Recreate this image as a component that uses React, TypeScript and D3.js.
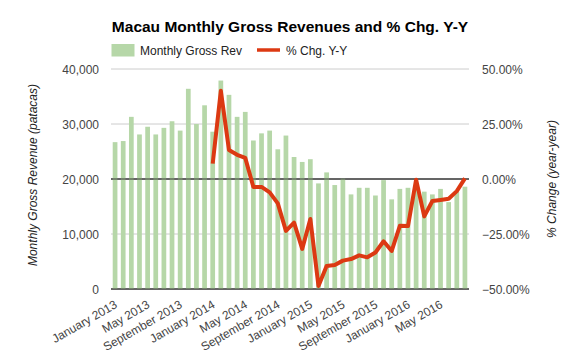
import React from "react";
import * as d3 from "d3";

const months: string[] = [
  "Jan 2013","Feb 2013","Mar 2013","Apr 2013","May 2013","Jun 2013","Jul 2013","Aug 2013","Sep 2013","Oct 2013","Nov 2013","Dec 2013",
  "Jan 2014","Feb 2014","Mar 2014","Apr 2014","May 2014","Jun 2014","Jul 2014","Aug 2014","Sep 2014","Oct 2014","Nov 2014","Dec 2014",
  "Jan 2015","Feb 2015","Mar 2015","Apr 2015","May 2015","Jun 2015","Jul 2015","Aug 2015","Sep 2015","Oct 2015","Nov 2015","Dec 2015",
  "Jan 2016","Feb 2016","Mar 2016","Apr 2016","May 2016","Jun 2016","Jul 2016","Aug 2016",
];

const revenue: number[] = [
  26700, 26900, 31300, 28100, 29500, 28100, 29300, 30500, 28800, 36400, 30000, 33400,
  28600, 37900, 35300, 31300, 32200, 27000, 28300, 28800, 25400, 27900, 24000, 23100,
  23600, 19200, 21200, 18900, 20100, 17200, 18400, 18400, 17000, 19800, 16300, 18200,
  18400, 18900, 17700, 17200, 18200, 15800, 17700, 18600,
];

const pctChange: (number | null)[] = [
  null, null, null, null, null, null, null, null, null, null, null, null,
  7.0, 40.1, 13.2, 11.0, 9.6, -3.6, -3.6, -6.1, -11.1, -23.6, -19.8, -31.8,
  -18.2, -48.6, -39.5, -39.1, -37.1, -36.4, -34.7, -35.6, -33.4, -28.3, -32.7, -21.3,
  -21.4, -0.3, -17.0, -10.0, -9.5, -9.0, -5.5, 0.3,
];

const xTickMonths: string[] = [
  "Jan 2013","May 2013","Sep 2013","Jan 2014","May 2014","Sep 2014","Jan 2015","May 2015","Sep 2015","Jan 2016","May 2016",
];
const xTickLabels: string[] = [
  "January 2013","May 2013","September 2013","January 2014","May 2014","September 2014","January 2015","May 2015","September 2015","January 2016","May 2016",
];

const leftTicks: number[] = [0, 10000, 20000, 30000, 40000];
const rightTicks: number[] = [-50, -25, 0, 25, 50];

const W = 580, H = 359;
const L = 111, R = 469, T = 69, B = 289;
const FONT = "'Liberation Sans', Arial, sans-serif";

export default function App() {
  const x = d3.scaleBand<string>().domain(months).range([L, R]).paddingInner(0.42).paddingOuter(0.21);
  const step = (R - L) / months.length;
  const xc = (m: string) => L + (months.indexOf(m) + 0.5) * step;
  const yL = d3.scaleLinear().domain([0, 40000]).range([B, T]);
  const yR = d3.scaleLinear().domain([-50, 50]).range([B, T]);
  const fmtL = d3.format(",");
  const fmtR = (v: number) => d3.format(".2f")(v) + "%";

  const line = d3
    .line<number | null>()
    .defined((d) => d !== null)
    .x((_, i) => xc(months[i]))
    .y((d) => yR(d as number));

  return (
    <svg width={W} height={H} style={{ position: "absolute", left: 0, top: 0, background: "#fff" }} fontFamily={FONT}>
      <rect x={0} y={0} width={W} height={H} fill="#fff" />
      <text x={290} y={32} textAnchor="middle" fontSize={15.5} fontWeight="bold" fill="#000">
        Macau Monthly Gross Revenues and % Chg. Y-Y
      </text>
      {/* legend */}
      <rect x={111.5} y={44} width={23} height={12.5} fill="#b6d7a8" />
      <text x={140} y={54.5} fontSize={12} fill="#222">Monthly Gross Rev</text>
      <line x1={257} x2={280} y1={50} y2={50} stroke="#dc3912" strokeWidth={3.5} />
      <text x={286} y={54.5} fontSize={12} fill="#222">% Chg. Y-Y</text>

      {/* gridlines */}
      {leftTicks.map((t) => (
        <line key={"g" + t} x1={L} x2={R} y1={yL(t)} y2={yL(t)} stroke={t === 0 || t === 20000 ? "#333" : "#ccc"} strokeWidth={1} />
      ))}

      {/* bars */}
      {revenue.map((v, i) => (
        <rect key={"b" + i} x={x(months[i])} y={yL(v)} width={x.bandwidth()} height={B - yL(v)} fill="#b6d7a8" />
      ))}

      {/* baselines on top of bars */}
      <line x1={L} x2={R} y1={yL(20000)} y2={yL(20000)} stroke="#333" strokeWidth={1} />
      <line x1={L} x2={R} y1={B} y2={B} stroke="#333" strokeWidth={1.2} />

      {/* line */}
      <path d={line(pctChange) || ""} fill="none" stroke="#dc3912" strokeWidth={4} strokeLinejoin="round" strokeLinecap="butt" />

      {/* left axis labels */}
      {leftTicks.map((t) => (
        <text key={"l" + t} x={99} y={yL(t) + 4.5} textAnchor="end" fontSize={12} fill="#444">
          {fmtL(t)}
        </text>
      ))}
      {/* right axis labels */}
      {rightTicks.map((t) => (
        <text key={"r" + t} x={482} y={yR(t) + 4.5} textAnchor="start" fontSize={12} fill="#444">
          {fmtR(t)}
        </text>
      ))}

      {/* x labels */}
      {xTickMonths.map((m, i) => (
        <text key={"x" + m} transform={`translate(${xc(m) + 3},${307}) rotate(-30)`} textAnchor="end" fontSize={12} fill="#444">
          {xTickLabels[i]}
        </text>
      ))}

      {/* axis titles */}
      <text transform={`translate(37,175) rotate(-90)`} textAnchor="middle" fontSize={12} fontStyle="italic" fill="#222">
        Monthly Gross Revenue (patacas)
      </text>
      <text transform={`translate(556,179) rotate(-90)`} textAnchor="middle" fontSize={12} fontStyle="italic" fill="#222">
        % Change (year-year)
      </text>
    </svg>
  );
}
